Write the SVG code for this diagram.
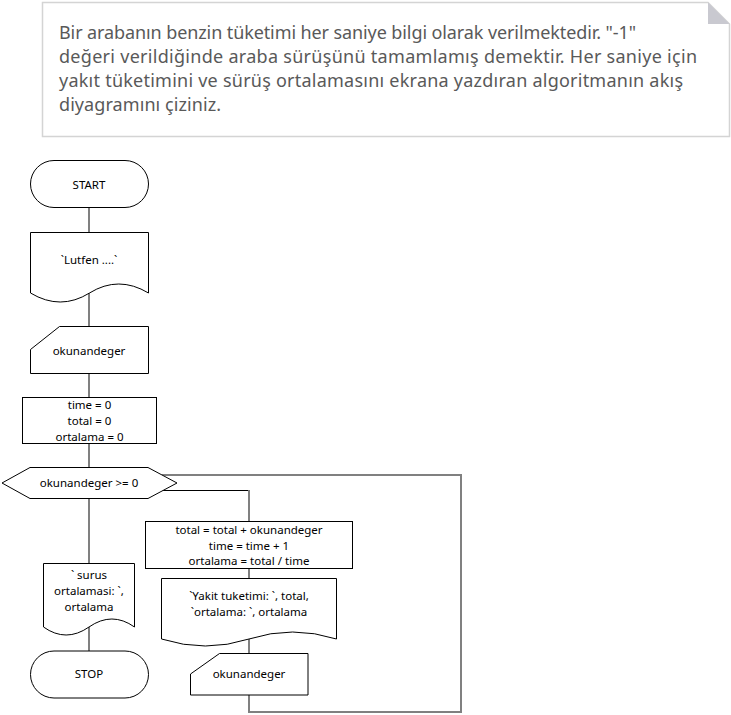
<svg xmlns="http://www.w3.org/2000/svg" width="731" height="715" viewBox="0 0 731 715">
<style>
.note{fill:#ffffff;stroke:#d4d4d4;stroke-width:1.5}
.fold{fill:#c9c9d0;stroke:none}
.ntext{font-family:"Noto Sans","Open Sans",sans-serif;font-size:18px;fill:#595959}
.shape{fill:#ffffff;stroke:#000000;stroke-width:1}
.t{font-family:"Noto Sans","DejaVu Sans",sans-serif;font-size:11.5px;fill:#000000;text-anchor:middle;dominant-baseline:central}
.conn{fill:none;stroke:#808080;stroke-width:2}
.connb{fill:none;stroke:#000000;stroke-width:1}
</style>
<rect width="731" height="715" fill="#ffffff"/>
<g id="note">
<path class="note" d="M42.5,2.5 H708 L729.5,24 V136.5 H42.5 Z"/>
<path class="fold" d="M708,2.5 L708,24 L729.5,24 Z"/>
<text class="ntext" x="59" y="39" textLength="577">Bir arabanın benzin tüketimi her saniye bilgi olarak verilmektedir. "-1"</text>
<text class="ntext" x="59" y="63" textLength="638">değeri verildiğinde araba sürüşünü tamamlamış demektir. Her saniye için</text>
<text class="ntext" x="59" y="87" textLength="624">yakıt tüketimini ve sürüş ortalamasını ekrana yazdıran algoritmanın akış</text>
<text class="ntext" x="59" y="111" textLength="162">diyagramını çiziniz.</text>
</g>
<g id="connectors">
<line class="conn" x1="89" y1="208" x2="89" y2="232"/>
<line class="conn" x1="89" y1="293" x2="89" y2="326"/>
<line class="conn" x1="89" y1="373" x2="89" y2="397"/>
<line class="conn" x1="89" y1="443" x2="89" y2="467"/>
<line class="conn" x1="89" y1="498" x2="89" y2="563"/>
<line class="conn" x1="89" y1="627" x2="89" y2="651"/>
<line class="connb" x1="161.5" y1="490.5" x2="249" y2="490.5"/>
<line class="conn" x1="249" y1="490" x2="249" y2="521"/>
<line class="conn" x1="249" y1="568" x2="249" y2="578"/>
<line class="conn" x1="249" y1="639" x2="249" y2="653"/>
<polyline class="conn" points="249,695 249,712 461,712 461,475 162,475"/>
</g>
<g id="start">
<rect class="shape" x="30.5" y="160.5" width="118" height="47" rx="23.5" ry="23.5"/>
<text class="t" x="89" y="184.5">START</text>
</g>
<g id="output1">
<path class="shape" d="M30.5,232.5 H148.5 V293 Q118.5,275 89.5,293 T30.5,293 Z"/>
<text class="t" x="89" y="259.5">`Lutfen ....`</text>
</g>
<g id="input1">
<path class="shape" d="M30.5,349.5 L59.5,326.5 H148.5 V373.5 H30.5 Z"/>
<text class="t" x="89" y="350.5">okunandeger</text>
</g>
<g id="init">
<rect class="shape" x="22.5" y="397.5" width="134" height="46"/>
<text class="t" x="89.5" y="404.5">time = 0</text>
<text class="t" x="89.5" y="420.5">total = 0</text>
<text class="t" x="89.5" y="436.5">ortalama = 0</text>
</g>
<g id="decision">
<path class="shape" d="M2,483 L30,467.5 H148 L177,483 L148,498.5 H30 Z"/>
<text class="t" x="89" y="482.5">okunandeger &gt;= 0</text>
</g>
<g id="process">
<rect class="shape" x="145.5" y="521.5" width="207" height="47"/>
<text class="t" x="249" y="529">total = total + okunandeger</text>
<text class="t" x="249" y="545">time = time + 1</text>
<text class="t" x="249" y="560.5">ortalama = total / time</text>
</g>
<g id="output2">
<path class="shape" d="M161.5,578.5 H336.5 V639 Q292.5,625 249,639 T161.5,639 Z"/>
<text class="t" x="249" y="595.5">`Yakit tuketimi: `, total,</text>
<text class="t" x="249" y="611.5">`ortalama: `, ortalama</text>
</g>
<g id="input2">
<path class="shape" d="M190.5,674 L219.5,653.5 H308 V695 H190.5 Z"/>
<text class="t" x="249" y="673.5">okunandeger</text>
</g>
<g id="output3">
<path class="shape" d="M43.5,563.5 H134.5 V627 Q112,611 89,627 T43.5,627 Z"/>
<text class="t" x="89" y="574.5">` surus</text>
<text class="t" x="89" y="590.5">ortalamasi: `,</text>
<text class="t" x="89" y="606.5">ortalama</text>
</g>
<g id="stop">
<rect class="shape" x="30.5" y="651" width="118" height="47" rx="23.5" ry="23.5"/>
<text class="t" x="89" y="673.5">STOP</text>
</g>
</svg>
